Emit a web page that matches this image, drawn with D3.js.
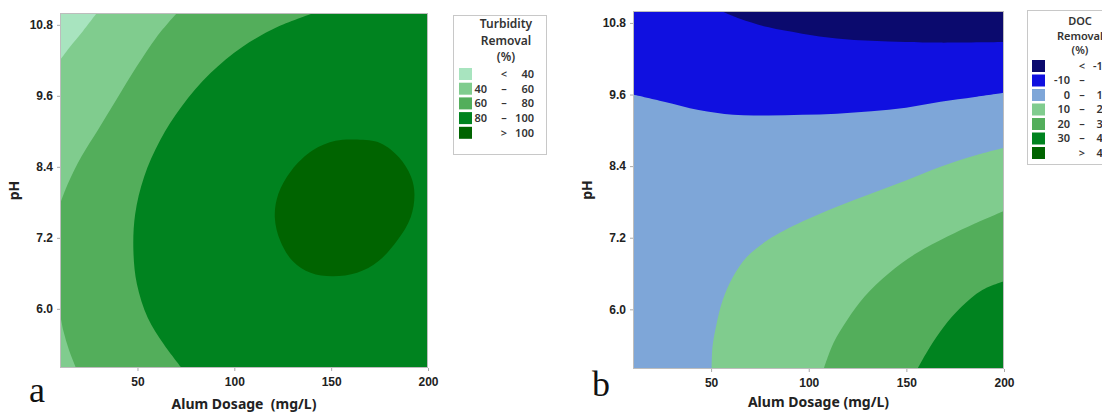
<!DOCTYPE html>
<html>
<head>
<meta charset="utf-8">
<script src="https://cdn.jsdelivr.net/npm/d3@7"></script>
<style>
  body { margin: 0; background: #fff; }
  svg { display: block; font-family: "Noto Sans", "Open Sans", sans-serif; }
</style>
</head>
<body>
<svg id="chart" width="1102" height="412"></svg>
<script>
// ---- data ----
const dosageDomain = [10, 200]
const phDomain = [5, 11]
const xTicks = [50, 100, 150, 200]
const yTicks = [6.0, 7.2, 8.4, 9.6, 10.8]

// contour lines, [alum dosage mg/L, pH]
const turb40 = [[29, 11], [22, 10.7], [15, 10.42], [10, 10.2]]
const turb60Top = [[70.4, 11], [60, 10.6], [49.5, 10.09], [39, 9.53], [29.5, 9.02], [21, 8.57], [14, 8.11], [10, 7.77]]
const turb60Bottom = [[10, 5.93], [11.8, 5.62], [14.6, 5.31], [18.3, 5]]
const turb80 = [[141.2, 11], [122.7, 10.77], [104.3, 10.43], [87.6, 9.98], [72.8, 9.42], [61.7, 8.85], [53.4, 8.23],
  [48.8, 7.6], [47.9, 6.98], [49.7, 6.42], [55.3, 5.85], [63.6, 5.4], [72.8, 5]]
const turb100 = [[163.4, 8.86], [175.5, 8.8], [185, 8.56], [191.3, 8.23], [193, 7.94], [191.1, 7.55], [184, 7.15],
  [174.5, 6.81], [163.4, 6.61], [150.5, 6.55], [139.4, 6.61], [130.1, 6.81], [123.7, 7.15], [120.9, 7.55],
  [122.7, 7.94], [129.5, 8.34], [140.5, 8.68], [152.3, 8.84]]

const docM10 = [[55.1, 11], [64.8, 10.87], [79, 10.73], [96.7, 10.62], [114.4, 10.54], [132.1, 10.5], [149.8, 10.48], [167.5, 10.47], [200, 10.48]]
const doc0 = [[10, 9.6], [25.9, 9.48], [43.6, 9.34], [61.3, 9.26], [79, 9.25], [96.7, 9.26], [114.4, 9.28], [132.1, 9.32],
  [149.8, 9.38], [167.5, 9.48], [185.1, 9.56], [200, 9.63]]
const doc10 = [[50.3, 5], [50.7, 5.37], [52.5, 5.71], [56, 6.16], [61.3, 6.55], [68.4, 6.88], [79, 7.16], [96.7, 7.47],
  [114.4, 7.72], [132.1, 7.94], [149.8, 8.16], [167.5, 8.39], [185.1, 8.58], [200, 8.71]]
const doc20 = [[107.7, 5], [112.6, 5.43], [119.7, 5.82], [128.5, 6.21], [140.9, 6.6], [155.1, 6.94], [171, 7.22], [185.1, 7.44], [200, 7.65]]
const doc30 = [[155.6, 5], [162.1, 5.37], [169.2, 5.71], [178.1, 6.04], [188.7, 6.32], [200, 6.47]]

// legends
const turbTitle = ['Turbidity', 'Removal', '(%)']
const turbLo = ['', '40', '60', '80', '']
const turbSep = ['<', '–', '–', '–', '>']
const turbHi = ['40', '60', '80', '100', '100']
const turbColors = ['#a8e4bf', '#80cc8e', '#53ae5b', '#00831f', '#006400']

const docTitle = ['DOC', 'Removal', '(%)']
const docLo = ['', '-10', '0', '10', '20', '30', '']
const docSep = ['<', '–', '–', '–', '–', '–', '>']
const docHi = ['-10', '0', '10', '20', '30', '40', '40']
const docColors = ['#0b0a6e', '#1010e0', '#7ea6d8', '#80cc8e', '#53ae5b', '#00831f', '#006400']

const svg = d3.select('#chart')

function drawPanel(opt) {
  const x = d3.scaleLinear().domain(dosageDomain).range([opt.left, opt.right])
  const y = d3.scaleLinear().domain(phDomain).range([opt.bottom, opt.top])
  const g = svg.append('g')

  g.append('clipPath').attr('id', opt.id + '-clip')
    .append('rect')
    .attr('x', opt.left).attr('y', opt.top)
    .attr('width', opt.right - opt.left).attr('height', opt.bottom - opt.top)

  const plot = g.append('g').attr('clip-path', `url(#${opt.id}-clip)`)
  plot.append('rect')
    .attr('x', opt.left).attr('y', opt.top)
    .attr('width', opt.right - opt.left).attr('height', opt.bottom - opt.top)
    .attr('fill', opt.base)

  const line = d3.line().x(d => x(d[0])).y(d => y(d[1])).curve(d3.curveCatmullRom.alpha(0.5))
  const closed = d3.line().x(d => x(d[0])).y(d => y(d[1])).curve(d3.curveCatmullRomClosed.alpha(0.5))

  // each region: contour points + corners of the plot that close it
  opt.regions.forEach(r => {
    let p
    if (r.closed) {
      p = closed(r.pts)
    } else {
      p = line(r.pts) + r.corners.map(c => `L${x(c[0])},${y(c[1])}`).join('') + 'Z'
    }
    plot.append('path').attr('d', p).attr('fill', r.color)
  })

  // frame
  g.append('rect')
    .attr('x', opt.left + 0.5).attr('y', opt.top + 0.5)
    .attr('width', opt.right - opt.left - 1).attr('height', opt.bottom - opt.top - 1)
    .attr('fill', 'none').attr('stroke', '#bdbdbd')

  // axes
  const xAxis = g.append('g').attr('transform', `translate(0,${opt.bottom})`)
    .call(d3.axisBottom(x).tickValues(xTicks).tickSize(3).tickPadding(6))
  const yAxis = g.append('g').attr('transform', `translate(${opt.left},0)`)
    .call(d3.axisLeft(y).tickValues(yTicks).tickFormat(d3.format('.1f')).tickSize(3).tickPadding(4))
  ;[xAxis, yAxis].forEach(a => {
    a.select('.domain').remove()
    a.selectAll('.tick line').attr('stroke', '#aaa')
    a.selectAll('.tick text')
      .attr('fill', '#222')
      .style('font-size', '12px')
      .style('font-weight', 'bold')
  })

  g.append('text')
    .attr('x', (opt.left + opt.right) / 2).attr('y', opt.xTitleY)
    .attr('text-anchor', 'middle')
    .style('font-size', '14px').style('font-weight', 'bold').style('white-space', 'pre')
    .attr('fill', '#222')
    .text(opt.xTitle)

  g.append('text')
    .attr('transform', `translate(${opt.yTitleX},${(opt.top + opt.bottom) / 2}) rotate(-90)`)
    .attr('text-anchor', 'middle')
    .style('font-size', '14px').style('font-weight', 'bold')
    .attr('fill', '#222')
    .text('pH')

  g.append('text')
    .attr('x', opt.tagX).attr('y', opt.tagY)
    .style('font-family', '"Liberation Serif", "Times New Roman", serif')
    .style('font-size', '36px')
    .attr('fill', '#111')
    .text(opt.tag)
}

function drawLegend(opt) {
  const g = svg.append('g').attr('transform', `translate(${opt.x},${opt.y})`)
  g.append('rect')
    .attr('x', 0.5).attr('y', 0.5)
    .attr('width', opt.w).attr('height', opt.h)
    .attr('fill', '#fff').attr('stroke', '#c8c8c8')

  g.selectAll('text.title').data(opt.title).enter()
    .append('text')
    .attr('class', 'title')
    .attr('x', opt.titleX).attr('y', (d, i) => opt.titleY + i * opt.titleStep)
    .attr('text-anchor', 'middle')
    .style('font-size', opt.titleSize).style('font-weight', 600)
    .attr('fill', '#333')
    .text(d => d)

  const rows = g.selectAll('g.row').data(opt.colors).enter()
    .append('g').attr('class', 'row')
    .attr('transform', (d, i) => `translate(0,${opt.rowY + i * opt.rowStep})`)

  rows.append('rect')
    .attr('x', opt.swX).attr('y', -6)
    .attr('width', 13).attr('height', 12)
    .attr('fill', d => d)

  const txt = sel => sel.attr('dy', '0.35em').style('font-size', '11px').style('font-weight', 600).attr('fill', '#333')
  rows.append('text').call(txt).attr('x', opt.loX).attr('text-anchor', 'end').text((d, i) => opt.lo[i])
  rows.append('text').call(txt).attr('x', opt.sepX).attr('text-anchor', 'middle').text((d, i) => opt.sep[i])
  rows.append('text').call(txt).attr('x', opt.hiX).attr('text-anchor', 'end').text((d, i) => opt.hi[i])
}

// panel a: turbidity
drawPanel({
  id: 'pa', left: 60, right: 428, top: 13, bottom: 368,
  base: turbColors[3],
  regions: [
    { pts: turb80, corners: [[10, 5], [10, 11]], color: turbColors[2] },
    { pts: turb60Top, corners: [[10, 11]], color: turbColors[1] },
    { pts: turb60Bottom, corners: [[10, 5]], color: turbColors[1] },
    { pts: turb40, corners: [[10, 11]], color: turbColors[0] },
    { pts: turb100, closed: true, color: turbColors[4] }
  ],
  xTitle: 'Alum Dosage  (mg/L)', xTitleY: 409, yTitleX: 19,
  tag: 'a', tagX: 29, tagY: 402
})

// panel b: DOC
drawPanel({
  id: 'pb', left: 633, right: 1004, top: 11, bottom: 369,
  base: docColors[2],
  regions: [
    { pts: doc0, corners: [[200, 11], [10, 11]], color: docColors[1] },
    { pts: docM10, corners: [[200, 11]], color: docColors[0] },
    { pts: doc10, corners: [[200, 5]], color: docColors[3] },
    { pts: doc20, corners: [[200, 5]], color: docColors[4] },
    { pts: doc30, corners: [[200, 5]], color: docColors[5] }
  ],
  xTitle: 'Alum Dosage (mg/L)', xTitleY: 407, yTitleX: 592,
  tag: 'b', tagX: 592, tagY: 396
})

drawLegend({
  x: 453, y: 15, w: 93, h: 139,
  title: turbTitle, titleSize: '12px', titleX: 53, titleY: 13, titleStep: 16.5,
  colors: turbColors, lo: turbLo, sep: turbSep, hi: turbHi,
  rowY: 59, rowStep: 14.7, swX: 6, loX: 34, sepX: 51, hiX: 81
})

drawLegend({
  x: 1027, y: 10, w: 100, h: 154,
  title: docTitle, titleSize: '11px', titleX: 53, titleY: 15, titleStep: 14.5,
  colors: docColors, lo: docLo, sep: docSep, hi: docHi,
  rowY: 56, rowStep: 14.5, swX: 5, loX: 43, sepX: 55, hiX: 82
})
</script>
</body>
</html>
